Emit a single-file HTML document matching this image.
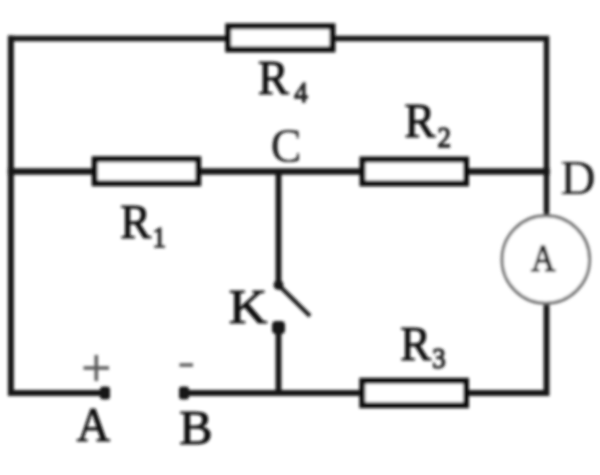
<!DOCTYPE html>
<html><head><meta charset="utf-8">
<style>
html,body{margin:0;padding:0;background:#fff;width:600px;height:475px;overflow:hidden;}
svg{display:block;}
text{font-family:"Liberation Serif",serif;}
</style></head><body>
<svg width="600" height="475" viewBox="0 0 600 475">
<defs><filter id="bl" x="-5%" y="-5%" width="110%" height="110%"><feGaussianBlur stdDeviation="1.5"/></filter></defs>
<rect width="600" height="475" fill="#fff"/>
<g filter="url(#bl)">
<g stroke="#151515" fill="none" stroke-linecap="square">
  <path d="M10.9 38.4 H546.5 V214" stroke-width="5.5"/>
  <path d="M10.9 38.4 V393 H105" stroke-width="6"/>
  <path d="M184 393 H546.5 V304" stroke-width="6"/>
  <path d="M10.9 171.5 H546.5" stroke-width="6.5"/>
  <path d="M278.5 171.5 V285" stroke-width="6" stroke-linecap="butt"/>
  <path d="M278.5 285 L310 316" stroke-width="4.2" stroke-linecap="butt"/>
  <path d="M278.5 327 V393" stroke-width="6" stroke-linecap="butt"/>
</g>
<g fill="#151515">
  <circle cx="278.5" cy="285" r="5"/>
  <rect x="272" y="321" width="13" height="13" rx="4"/>
  <rect x="100" y="386.5" width="10" height="13" rx="3"/>
  <rect x="179" y="386.5" width="10" height="13" rx="3"/>
</g>
<g stroke="#111" fill="#fff" stroke-width="6">
  <rect x="228.2" y="26.3" width="104.2" height="23.1"/>
  <rect x="94.7" y="159.2" width="103.5" height="24.1"/>
  <rect x="362.5" y="159.5" width="103.5" height="23.9"/>
  <rect x="362.3" y="380.8" width="103.7" height="24.4"/>
</g>
<circle cx="545.8" cy="259.5" r="43.7" stroke="#6a6a6a" stroke-width="3" fill="#fff"/>
<text transform="translate(257.99,94.23) scale(0.95,1)" font-size="48.5" fill="#111" stroke="#111" stroke-width="1.0">R</text>
<text transform="translate(270.66,161.51) scale(0.95,1)" font-size="48.5" fill="#1a1a1a" stroke="#1a1a1a" stroke-width="0.2">C</text>
<text transform="translate(404.39,136.78) scale(0.95,1)" font-size="48.5" fill="#111" stroke="#111" stroke-width="1.0">R</text>
<text transform="translate(560.46,194.49) scale(1.0,1)" font-size="48.5" fill="#1a1a1a" stroke="#1a1a1a" stroke-width="0.2">D</text>
<text transform="translate(120.19,237.68) scale(0.95,1)" font-size="48.5" fill="#111" stroke="#111" stroke-width="1.0">R</text>
<text transform="translate(228.63,322.53) scale(1.1,1)" font-size="48.5" fill="#111" stroke="#111" stroke-width="1.0">K</text>
<text transform="translate(76.75,441.00) scale(0.95,1)" font-size="48.5" fill="#111" stroke="#111" stroke-width="1.0">A</text>
<text transform="translate(179.19,443.51) scale(1.03,1)" font-size="48.5" fill="#111" stroke="#111" stroke-width="1.0">B</text>
<text transform="translate(400.14,359.78) scale(0.95,1)" font-size="48.5" fill="#111" stroke="#111" stroke-width="1.0">R</text>
<text transform="translate(531.23,271.37) scale(0.85,1)" font-size="39" fill="#222" stroke="#222" stroke-width="1.6">A</text>
<text transform="translate(294.20,102.37) scale(0.9,1)" font-size="30" fill="#222" stroke="#222" stroke-width="1.4">4</text>
<text transform="translate(437.40,147.23) scale(0.9,1)" font-size="30" fill="#222" stroke="#222" stroke-width="1.4">2</text>
<text transform="translate(152.47,246.90) scale(0.9,1)" font-size="30" fill="#222" stroke="#222" stroke-width="1.4">1</text>
<text transform="translate(432.33,368.48) scale(0.9,1)" font-size="30" fill="#222" stroke="#222" stroke-width="1.4">3</text>
<g stroke="#5a5a5a" stroke-width="3.5">
  <path d="M83.5 368 H109 M96.3 355 V381"/>
  <path d="M179.5 365 H193"/>
</g>
</g>
</svg>
</body></html>
